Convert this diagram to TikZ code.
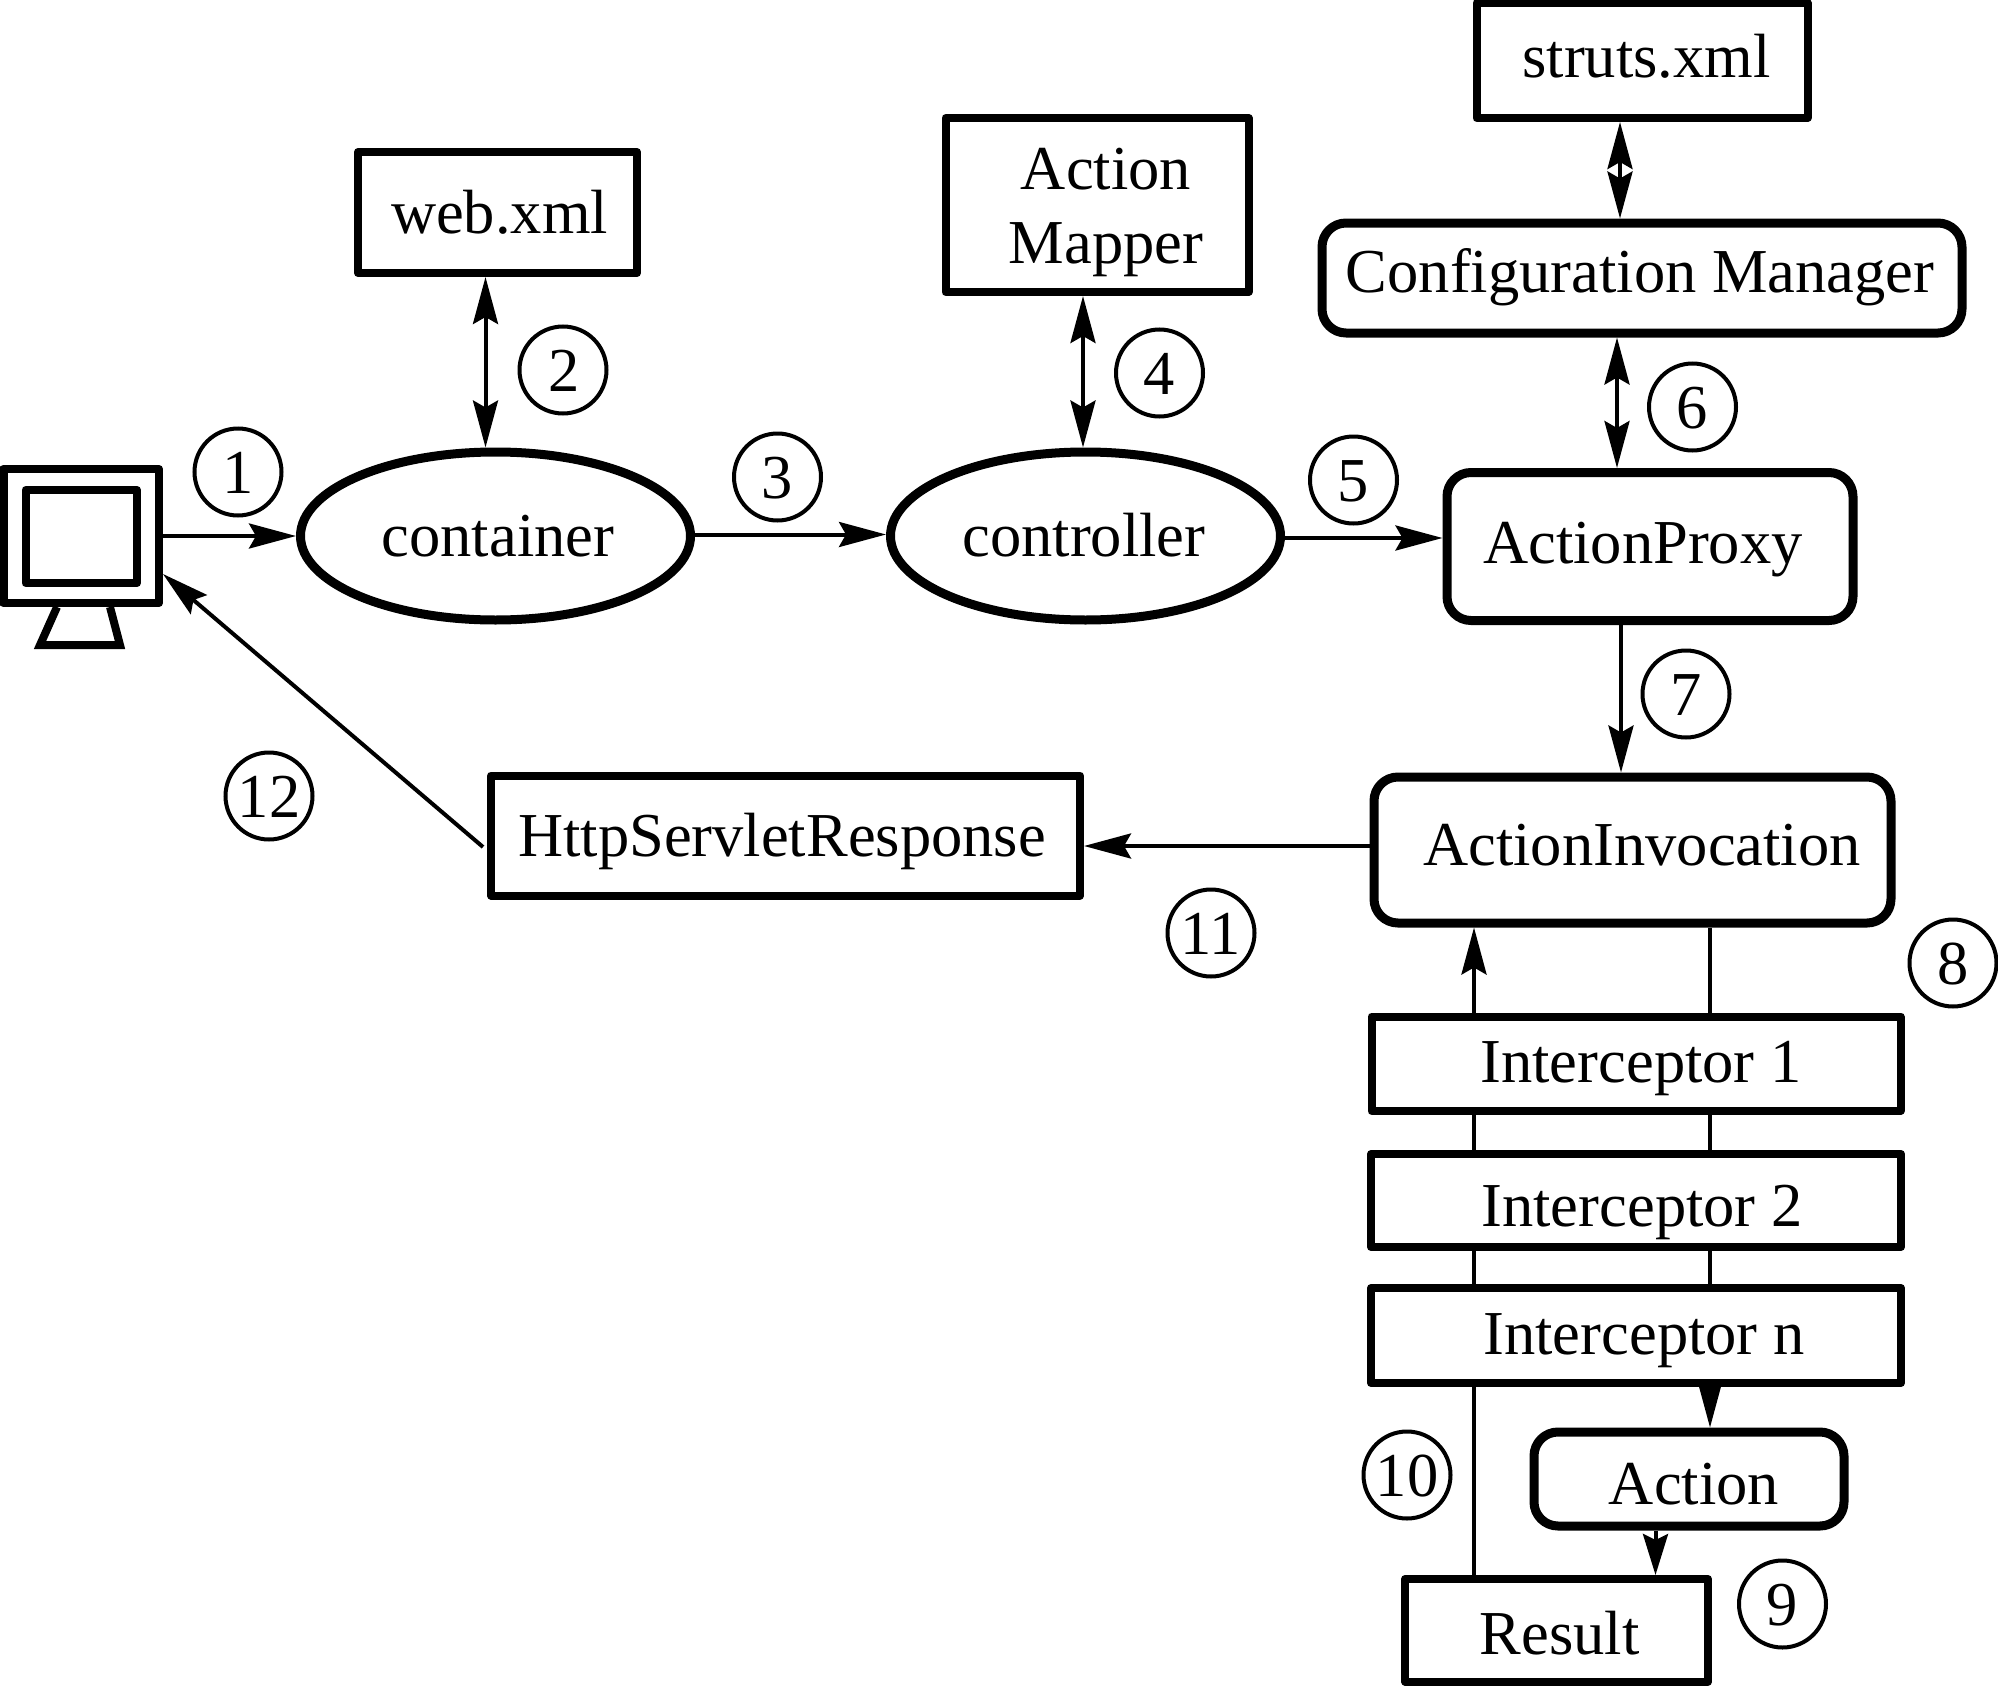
\documentclass[tikz,border=0pt]{standalone}
\usepackage{fontspec}
\setmainfont{Liberation Serif}
\usetikzlibrary{arrows.meta,shapes.geometric,backgrounds}
\newlength{\pxu}\setlength{\pxu}{0.5pt}
% zero-size label: #1 = x offset, #2 = baseline offset (reference pixels, downwards)
\newcommand{\lbl}[3]{\raisebox{-#2\pxu}[0pt][0pt]{\makebox[0pt]{\hspace*{#1\pxu}\hspace*{#1\pxu}#3}}}
\tikzset{
  every node/.style={inner sep=0pt,align=center,font=\fontsize{31.25pt}{36pt}\selectfont},
  sqbox/.style={draw,fill=white,rectangle,line width=4pt,line join=round},
  rdbox/.style={draw,fill=white,rectangle,line width=4.5pt,rounded corners=12pt},
  oval/.style={draw,fill=white,ellipse,line width=4.5pt},
  num/.style={draw,fill=white,circle,line width=2pt,minimum size=43.5pt},
  conn/.style={line width=2pt,-{Stealth[length=23.5pt,width=12.5pt,inset=3.5pt]}},
  shortconn/.style={line width=2pt,-{Stealth[length=20.5pt,width=12.5pt,inset=3pt]}},
  conn2/.style={line width=2pt,{Stealth[length=23.5pt,width=12.5pt,inset=3.5pt]}-{Stealth[length=23.5pt,width=12.5pt,inset=3.5pt]}},
}
\begin{document}
\begin{tikzpicture}[x=0.5pt,y=-0.5pt]
\useasboundingbox (0,0) rectangle (1998,1686);
% monitor
\node[sqbox,minimum width=77.75pt,minimum height=67pt] (mon) at (81.25,536) {};
\node[sqbox,minimum width=55.75pt,minimum height=46.5pt] (scr) at (81.25,536.5) {};
\draw[line width=4pt,miter limit=10] (57,607) -- (40,645) -- (120,645) -- (110,607);
% main nodes
\node[sqbox,minimum width=139.5pt,minimum height=60.5pt] (web) at (497.5,212.5) {\lbl{2}{21.5}{web.xml}};
\node[sqbox,minimum width=151.5pt,minimum height=87pt] (mapper) at (1097,205) {\lbl{9}{-15}{Action}\lbl{9}{59}{Mapper}};
\node[sqbox,minimum width=165.5pt,minimum height=57.5pt] (struts) at (1642,60.5) {\lbl{4.5}{17}{struts.xml}};
\node[rdbox,minimum width=320pt,minimum height=55pt] (config) at (1642,278) {\lbl{-2}{14}{Configuration Manager}};
\node[oval,minimum width=195pt,minimum height=84pt] (container) at (495.5,536) {\lbl{2.5}{20}{container}};
\node[oval,minimum width=195pt,minimum height=84pt] (controller) at (1085.5,536) {\lbl{-1.5}{20}{controller}};
\node[rdbox,minimum width=203pt,minimum height=74pt] (proxy) at (1650,546.5) {\lbl{-7}{16.5}{ActionProxy}};
\node[rdbox,minimum width=258.5pt,minimum height=73pt] (invoc) at (1632.5,850) {\lbl{9.5}{15}{ActionInvocation}};
\node[sqbox,minimum width=294.5pt,minimum height=60pt] (resp) at (785.5,835.5) {\lbl{-3.5}{20.5}{HttpServletResponse}};
\node[sqbox,minimum width=264.5pt,minimum height=47.25pt] (int1) at (1636,1063.75) {\lbl{5}{18.25}{Interceptor 1}};
\node[sqbox,minimum width=265pt,minimum height=46.5pt] (int2) at (1636,1200.5) {\lbl{6}{25.5}{Interceptor 2}};
\node[sqbox,minimum width=265pt,minimum height=47.5pt] (intn) at (1636,1335.5) {\lbl{8}{18.5}{Interceptor n}};
\node[rdbox,minimum width=155pt,minimum height=47pt] (action) at (1689,1479) {\lbl{5}{25.5}{Action}};
\node[sqbox,minimum width=151.5pt,minimum height=51.25pt] (result) at (1556.5,1630.25) {\lbl{3}{23.75}{Result}};
% numbers
\node[num] (n1) at (238,472) {\lbl{0}{21}{1}};
\node[num] (n2) at (563,370) {\lbl{1}{21}{2}};
\node[num] (n3) at (777.5,477) {\lbl{0}{21}{3}};
\node[num] (n4) at (1159.5,373) {\lbl{0}{21}{4}};
\node[num] (n5) at (1353.5,480) {\lbl{0}{21}{5}};
\node[num] (n6) at (1692.5,407) {\lbl{0}{21}{6}};
\node[num] (n7) at (1686,694) {\lbl{0}{21}{7}};
\node[num] (n8) at (1953,963) {\lbl{0}{21}{8}};
\node[num] (n9) at (1782.5,1604) {\lbl{0}{21}{9}};
\node[num] (n10) at (1407,1475) {\lbl{0}{21}{10}};
\node[num] (n11) at (1211,933) {\lbl{0}{21}{11}};
\node[num] (n12) at (269,796) {\lbl{0}{21}{12}};
% connectors
\begin{pgfonlayer}{background}
\draw[conn] (mon.east) -- (container.west);
\draw[conn] ([yshift=0.75pt]container.east) -- ([yshift=0.75pt]controller.west);
\draw[conn] ([yshift=-1pt]controller.east) -- ([yshift=4.25pt]proxy.west);
\draw[conn2] ([xshift=-6pt]web.south) -- ([xshift=-5pt]container.north);
\draw[conn2] ([xshift=-7pt]mapper.south) -- ([xshift=-1.25pt]controller.north);
\draw[conn2] ([xshift=-11pt]struts.south) -- ([xshift=-11pt]config.north);
\draw[conn2] ([xshift=-12.5pt]config.south) -- ([xshift=-16.5pt]proxy.north);
\draw[conn] ([xshift=-14.5pt]proxy.south) -- ([xshift=-5.75pt]invoc.north);
\draw[conn] ([yshift=2pt]invoc.west) -- ([yshift=-5.25pt]resp.east);
\draw[conn] ([xshift=-2pt,yshift=-5.75pt]resp.west) -- ([yshift=-19pt]mon.east);
\draw[conn] ([xshift=-41.25pt]result.north) -- ([xshift=-79.25pt]invoc.south);
\draw[conn] ([xshift=38.75pt]invoc.south) -- ([xshift=10.5pt]action.north);
\draw[shortconn] ([xshift=-16.75pt]action.south) -- ([xshift=49.5pt]result.north);
\end{pgfonlayer}
\end{tikzpicture}
\end{document}
